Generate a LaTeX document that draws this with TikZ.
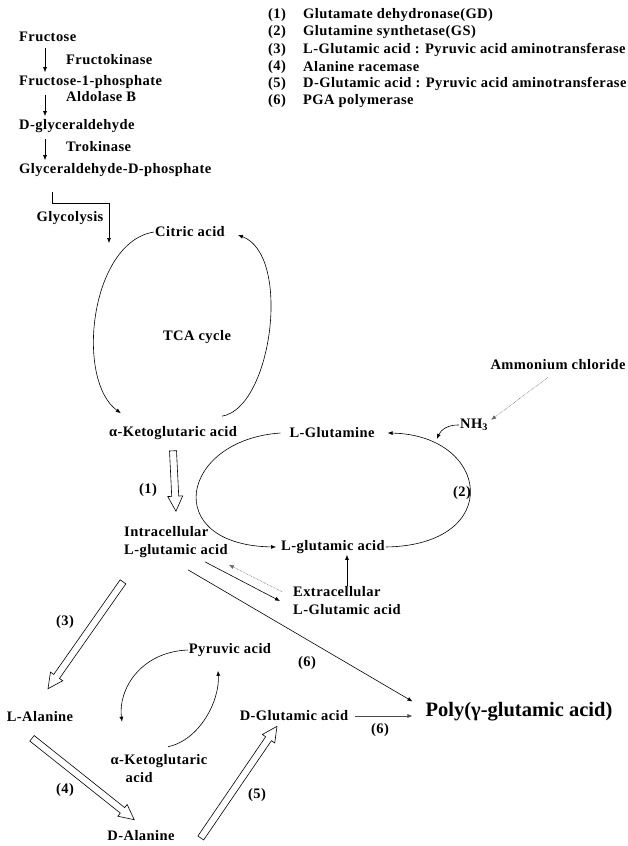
\documentclass[tikz,border=0pt]{standalone}
\usepackage{fontspec}
\setmainfont{Liberation Serif}
\newfontfamily\tracked{Liberation Serif}[LetterSpace=3]
\usetikzlibrary{arrows.meta, calc}

% open double-line arrow between two points
\newcommand{\hollowarrow}[2]{%
  \coordinate (ha) at (#1);
  \coordinate (hb) at (#2);
  \draw[hollow] ($(ha)!3.5pt!90:(hb)$) -- ($(hb)!15pt!(ha)!3.5pt!-90:(ha)$)
    -- ($(hb)!15pt!(ha)!7.5pt!-90:(ha)$) -- (hb)
    -- ($(hb)!15pt!(ha)!7.5pt!90:(ha)$) -- ($(hb)!15pt!(ha)!3.5pt!90:(ha)$)
    -- ($(ha)!3.5pt!-90:(hb)$) -- cycle;}

\begin{document}
\begin{tikzpicture}[x=1pt, y=-1pt,
    lbl/.style={font=\tracked\bfseries\fontsize{14.5}{18}\selectfont, inner sep=1pt},
    arr/.style={-{Latex[length=5pt,width=4pt]}, line width=0.6pt},
    dotarr/.style={arr, densely dotted, black!60},
    hollow/.style={line width=0.6pt, fill=white, line join=miter}]
  \useasboundingbox (0,0) rectangle (627,846);

  % Fructose pathway
  \node[lbl, anchor=west] (fru) at (18,37) {Fructose};
  \node[lbl, anchor=west] (f1p) at (18,82) {Fructose-1-phosphate};
  \node[lbl, anchor=west] (dgly) at (18,126) {D-glyceraldehyde};
  \node[lbl, anchor=west] (gdp) at (18,170) {Glyceraldehyde-D-phosphate};
  \node[lbl, anchor=west] (fk) at (65,60) {Fructokinase};
  \node[lbl, anchor=west] (ab) at (65,97) {Aldolase B};
  \node[lbl, anchor=west] (tk) at (65,147) {Trokinase};
  \foreach \a/\b in {fru/f1p, f1p/dgly, dgly/gdp}
    \draw[arr] ([xshift=27pt,yshift=-5pt]\a.south west) -- ([xshift=27pt,yshift=2pt]\b.north west);

  % Enzyme legend
  \foreach \t [count=\k] in {Glutamate dehydronase(GD), Glutamine synthetase(GS),
      L-Glutamic acid : Pyruvic acid aminotransferase, Alanine racemase,
      D-Glutamic acid : Pyruvic acid aminotransferase, PGA polymerase} {
    \node[lbl, anchor=west] (num\k) at (267,{15+17.3*(\k-1)}) {(\k)};
    \node[lbl, anchor=west] (enz\k) at (302,{15+17.3*(\k-1)}) {\t};
  }

  % Glycolysis into TCA cycle
  \node[lbl] (glyc) at (70,218) {Glycolysis};
  \coordinate (glyend) at (109,243);
  \draw[arr] ([xshift=34pt,yshift=-14pt]gdp.south west) -- ++(0,12) -| (glyend);

  % TCA cycle
  \node[lbl] (citric) at (190,232) {Citric acid};
  \node[lbl] (tca) at (197,337) {TCA cycle};
  \node[lbl] (aketo) at (173,433) {α-Ketoglutaric acid};
  \draw[arr] (citric.west) .. controls (90,242) and (75,380) .. ([xshift=13pt,yshift=12pt]aketo.north west);
  \draw[arr] ([xshift=49pt,yshift=9pt]aketo.north) .. controls (272,408) and (292,255) .. ([xshift=12pt,yshift=-3pt]citric.east);

  % Glutamine cycle
  \node[lbl] (lgln) at (332,433) {L-Glutamine};
  \node[lbl] (lglu) at (333,547) {L-glutamic acid};
  \node[lbl] (nh3) at (474,425) {NH\textsubscript{3}};
  \node[lbl] (ammon) at (558,365) {Ammonium chloride};
  \node[lbl] (n2) at (462,493) {(2)};
  \draw[arr] ([xshift=-8pt]lgln.west) .. controls (180,440) and (160,545) .. ([xshift=-4pt]lglu.west);
  \draw[arr] (lglu.east) .. controls (505,545) and (490,435) .. ([xshift=12pt]lgln.east);
  \draw[arr] (nh3.west) to[bend right=35] ([xshift=-22pt,yshift=-14pt]nh3.west);
  \draw[dotarr] ([xshift=-10pt,yshift=-6pt]ammon.south) -- ([xshift=2pt,yshift=-2pt]nh3.north east);

  % Intracellular and extracellular glutamic acid
  \node[lbl, anchor=west, align=left] (intra) at (123,542) {Intracellular\\L-glutamic acid};
  \node[lbl, anchor=west, align=left] (extra) at (292,601) {Extracellular\\L-Glutamic acid};
  \node[lbl] (n1) at (148,490) {(1)};
  \hollowarrow{[yshift=-10pt]aketo.south}{[yshift=14pt]intra.north}
  \draw[arr] (extra.north) -- (extra.north |- lglu.south);
  \draw[dotarr] ([xshift=-10pt,yshift=-6pt]extra.north west) -- ([yshift=-6pt]intra.south east);
  \draw[arr] ([xshift=-24pt,yshift=-3pt]intra.south east) -- ([xshift=-12pt]extra.west);

  % Alanine branch
  \node[lbl] (pyr) at (230,650) {Pyruvic acid};
  \node[lbl] (lala) at (40,717) {L-Alanine};
  \node[lbl, align=left] (aketo2) at (159,769) {α-Ketoglutaric\\\hspace*{15pt}acid};
  \node[lbl] (dala) at (141,836) {D-Alanine};
  \node[lbl] (dglu) at (294,716) {D-Glutamic acid};
  \node[lbl] (n3) at (65,622) {(3)};
  \node[lbl] (n4) at (65,790) {(4)};
  \node[lbl] (n5) at (257,795) {(5)};
  \hollowarrow{[yshift=-23pt]intra.south west}{[xshift=8pt,yshift=22pt]lala.north}
  \hollowarrow{[xshift=-8pt,yshift=-15pt]lala.south}{[xshift=28pt,yshift=10pt]dala.north west}
  \hollowarrow{[xshift=25pt,yshift=-2pt]dala.east}{[xshift=-17pt,yshift=-4pt]dglu.south}
  \draw[arr] (pyr.west) .. controls (140,652) and (118,690) .. ([xshift=-37pt,yshift=32pt]aketo2.north);
  \draw[arr] ([xshift=9pt,yshift=7pt]aketo2.north) .. controls (200,740) and (220,700) .. ([xshift=-12pt,yshift=-13pt]pyr.south);

  % Polymerisation
  \node[font=\bfseries\fontsize{20.5}{24}\selectfont, inner sep=1pt] (poly) at (519,712) {Poly(γ-glutamic acid)};
  \node[lbl] (n6a) at (307,663) {(6)};
  \node[lbl] (n6b) at (380,730) {(6)};
  \draw[arr] ([xshift=65pt,yshift=-11pt]intra.south west) -- ([xshift=-12pt]poly.north west);
  \draw[arr, black!70] ([xshift=6pt]dglu.east) -- ([xshift=-12pt]dglu.east -| poly.west);
\end{tikzpicture}
\end{document}
